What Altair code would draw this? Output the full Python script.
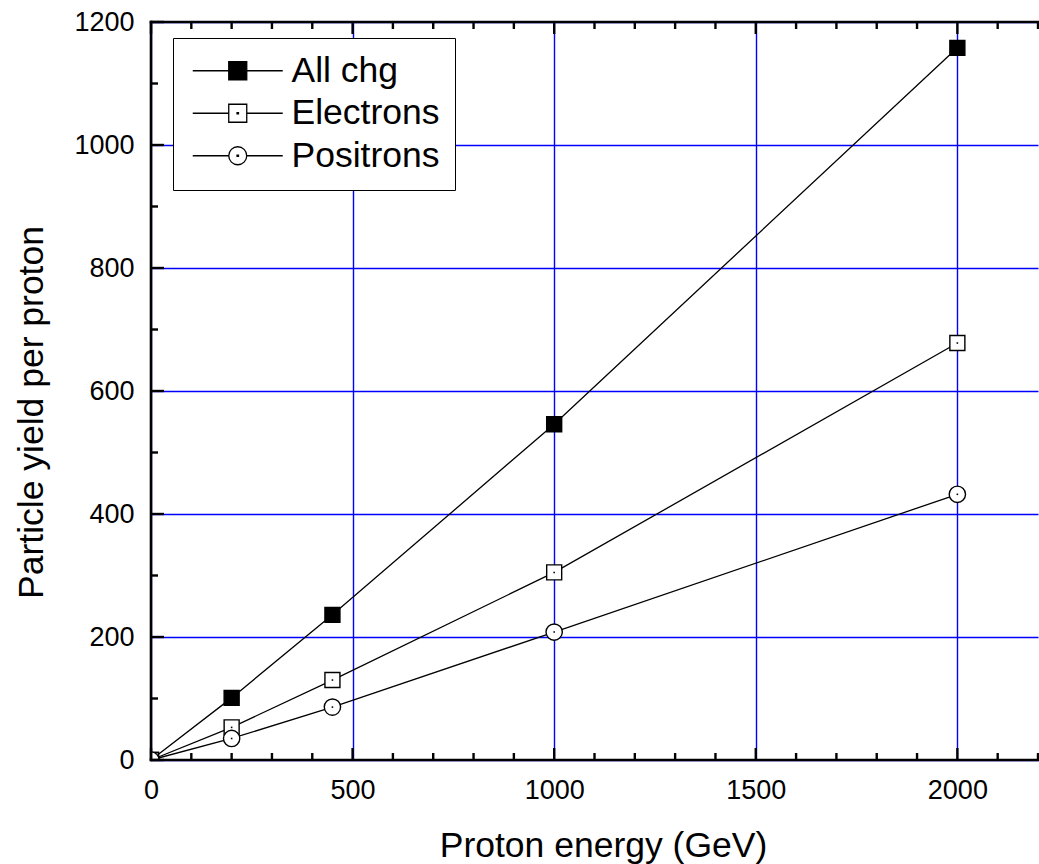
import altair as alt
import pandas as pd

# Particle yield per proton versus proton energy
energy = [0, 200, 450, 1000, 2000]
all_chg = [0, 101, 236, 546, 1158]
electrons = [0, 53, 130, 305, 678]
positrons = [0, 35, 86, 208, 432]
series_names = ["All chg", "Electrons", "Positrons"]

# tick positions
x_major = [0, 500, 1000, 1500, 2000]
x_minor = [100, 200, 300, 400, 600, 700, 800, 900, 1100, 1200, 1300, 1400,
           1600, 1700, 1800, 1900, 2100, 2200]
y_major = [0, 200, 400, 600, 800, 1000, 1200]
y_minor = [100, 300, 500, 700, 900, 1100]
x_limits = [0, 2200]
y_limits = [0, 1200]

rows = []
for name, vals in zip(series_names, [all_chg, electrons, positrons]):
    for e, v in zip(energy, vals):
        rows.append({"energy": e, "yield": v, "series": name})
df = pd.DataFrame(rows)

FONT = "Liberation Sans"
W, H = 887, 738
X_SCALE = alt.Scale(domain=x_limits, nice=False, zero=False)
Y_SCALE = alt.Scale(domain=y_limits, nice=False)

x_axis = alt.Axis(
    values=x_major, format="d", domain=False, ticks=False, grid=True,
    gridColor="#0000ff", gridWidth=1.4, labelFontSize=27, labelFont=FONT,
    labelColor="black", labelPadding=17, labelFlush=False, labelOverlap=False,
    title="Proton energy (GeV)", titleFont=FONT, titleFontSize=35.5,
    titleFontWeight="normal", titleColor="black", titleX=452, titleY=96,
    titleBaseline="alphabetic", titleAlign="center",
)
y_axis = alt.Axis(
    values=y_major, format="d", domain=False, ticks=False, grid=True,
    gridColor="#0000ff", gridWidth=1.4, labelFontSize=27, labelFont=FONT,
    labelColor="black", labelPadding=17, labelFlush=False, labelOverlap=False,
    title="Particle yield per proton", titleFont=FONT, titleFontSize=35.5,
    titleFontWeight="normal", titleColor="black", titleX=-109, titleY=390,
    titleBaseline="alphabetic", titleAlign="center",
)

x_enc = alt.X("energy:Q", scale=X_SCALE, axis=x_axis)
y_enc = alt.Y("yield:Q", scale=Y_SCALE, axis=y_axis)

base = alt.Chart(df)

lines = base.mark_line(color="black", strokeWidth=1.3).encode(
    x=x_enc, y=y_enc, detail="series:N"
)

def markers(name, shape, fill, size):
    return base.transform_filter(alt.datum.series == name).mark_point(
        shape=shape, fill=fill, stroke="black", strokeWidth=1.4,
        size=size, opacity=1, filled=False, clip=True,
    ).encode(x=x_enc, y=y_enc)

pts_all = markers("All chg", "square", "black", 225)
pts_ele = markers("Electrons", "square", "white", 225)
pts_pos = markers("Positrons", "circle", "white", 266)

dots = base.transform_filter(alt.datum.series != "All chg").mark_point(
    shape="square", filled=True, color="black", size=2.5, opacity=1, clip=True
).encode(x=x_enc, y=y_enc)

# legend entries: a line through each marker (path units span -1..1 per marker)
legend_paths = [
    "M-5,0H-1M1,0H5M-1,-1H1V1H-1Z",
    "M-5,0H-1M1,0H5M-1,-1H1V1H-1ZM-0.08,-0.08H0.08V0.08H-0.08Z",
    "M-5,0H-1M1,0H5M-1,0A1,1,0,1,1,1,0A1,1,0,1,1,-1,0Z"
    "M-0.08,-0.08H0.08V0.08H-0.08Z",
]
leg = alt.Legend(
    title=None, orient="none", legendX=22, legendY=16,
    fillColor="white", strokeColor="black", padding=15,
    labelFont=FONT, labelFontSize=35.5, labelColor="black",
    symbolSize=324, symbolStrokeWidth=1.3, symbolStrokeColor="black",
    symbolOpacity=1, symbolOffset=32, labelOffset=36, rowPadding=5.5,
)
legend_layer = base.transform_filter("false").mark_point(
    filled=True, opacity=1
).encode(
    x=x_enc, y=y_enc,
    shape=alt.Shape("series:N", scale=alt.Scale(domain=series_names, range=legend_paths), legend=leg),
    fill=alt.Fill("series:N", scale=alt.Scale(domain=series_names, range=["black", "white", "white"]), legend=leg),
    stroke=alt.Stroke("series:N", scale=alt.Scale(domain=series_names, range=["black", "black", "black"]), legend=leg),
)

# axis frame: left, bottom and top lines with inward ticks
frame_left = pd.DataFrame({"energy": [x_limits[0]], "yield": [y_limits[0]], "yield_end": [y_limits[1]]})
frame_bottom = pd.DataFrame({"energy": [x_limits[0]], "yield": [y_limits[0]], "energy_end": [x_limits[1]]})
frame_top = pd.DataFrame({"energy": [x_limits[0]], "yield": [y_limits[1]], "energy_end": [x_limits[1]]})
frame_style = dict(color="black", strokeWidth=2.6, strokeCap="square")
left_line = alt.Chart(frame_left).mark_rule(**frame_style).encode(
    x=x_enc, y=y_enc, y2="yield_end:Q"
)
bottom_line = alt.Chart(frame_bottom).mark_rule(**frame_style).encode(
    x=x_enc, x2="energy_end:Q", y=y_enc
)
top_line = alt.Chart(frame_top).mark_rule(**frame_style).encode(
    x=x_enc, x2="energy_end:Q", y=y_enc
)

tick_style = dict(color="black", strokeWidth=2.4)
xt_major = pd.DataFrame({"energy": x_major})
xt_minor = pd.DataFrame({"energy": x_minor})
yt_major = pd.DataFrame({"yield": y_major})
yt_minor = pd.DataFrame({"yield": y_minor})

def xticks(data, y0, y1):
    return alt.Chart(data).mark_rule(**tick_style).encode(
        x=x_enc, y=alt.value(y0), y2=alt.value(y1)
    )

def yticks(data, x0, x1):
    return alt.Chart(data).mark_rule(**tick_style).encode(
        y=y_enc, x=alt.value(x0), x2=alt.value(x1)
    )

ticks = [
    xticks(xt_major, H, H - 12), xticks(xt_minor, H, H - 7),
    xticks(xt_major, 0, 12), xticks(xt_minor, 0, 7),
    yticks(yt_major, 0, 13), yticks(yt_minor, 0, 7),
]

chart = alt.layer(
    lines, pts_all, pts_ele, pts_pos, dots, legend_layer,
    left_line, bottom_line, top_line, *ticks
).properties(
    width=W, height=H,
    autosize=alt.AutoSizeParams(type="none"),
    padding={"left": 151, "top": 22, "right": 1, "bottom": 104},
    background="white",
).configure_view(stroke=None)

chart.save("out.html", embed_options={"renderer": "svg", "actions": False})
